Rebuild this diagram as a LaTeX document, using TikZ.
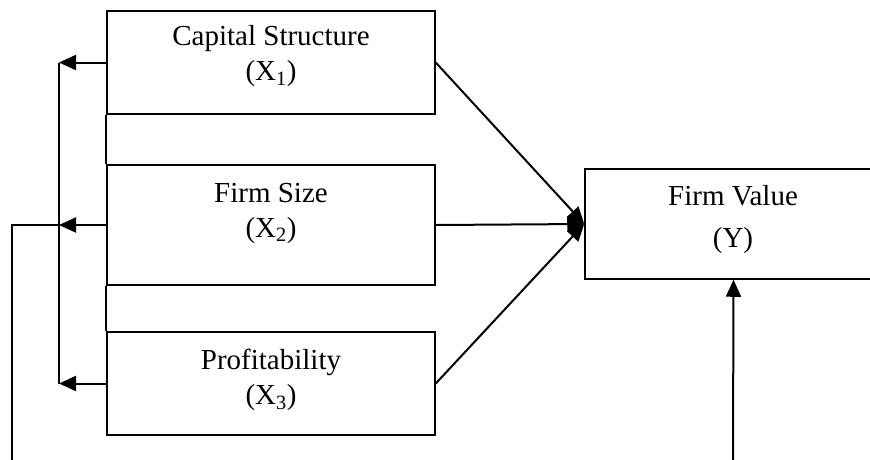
\documentclass[tikz,border=0pt]{standalone}
\usepackage{fontspec}
\setmainfont{Liberation Serif}
\usetikzlibrary{arrows.meta}
\begin{document}
\begin{tikzpicture}[x=1pt,y=-1pt,
  box/.style={draw,line width=1.5pt,inner sep=0pt},
  lbl/.style={align=center,inner sep=0pt,font=\fontsize{29}{35}\selectfont},
  link/.style={line width=2pt},
  arr/.style={line width=2pt,-{Triangle[length=17pt,width=15pt]}}]
\useasboundingbox (0,0) rectangle (870,459);
\clip (0,0) rectangle (870,459);
\node[box,minimum width=328pt,minimum height=103pt] (cs) at (271,62.5) {};
\node[box,minimum width=328pt,minimum height=120pt] (fs) at (271,225) {};
\node[box,minimum width=328pt,minimum height=103pt] (pr) at (271,383.5) {};
\node[box,minimum width=297pt,minimum height=110pt] (fv) at (733.5,224) {};
\node[lbl] (cs-t) at (271,56.5) {Capital Structure\\(X\textsubscript{1})};
\node[lbl] (fs-t) at (271,213) {Firm Size\\(X\textsubscript{2})};
\node[lbl] (pr-t) at (271,380) {Profitability\\(X\textsubscript{3})};
\node[lbl,font=\fontsize{29}{42}\selectfont] (fv-t) at (733,219.5) {Firm Value\\(Y)};
\coordinate (bus) at (59,0);
\coordinate (fb) at (12,460);
\coordinate (fv-in) at (733,460);
\draw[link] (cs.south west) -- (fs.north west);
\draw[link] (fs.south west) -- (pr.north west);
\draw[arr] (cs.west) -- (cs.west -| bus);
\draw[arr] (fs.west) -- (fs.west -| bus);
\draw[arr] (pr.west) -- (pr.west -| bus);
\draw[link] (cs.west -| bus) -- (pr.west -| bus);
\draw[link] (fb) -- (fb |- fs.west) -- (fs.west -| bus);
\draw[arr] (cs.east) -- (fv.west);
\draw[arr] (fs.east) -- (fv.west);
\draw[arr] (pr.east) -- (fv.west);
\draw[arr] (fv-in) -- (fv.south);
\end{tikzpicture}
\end{document}
